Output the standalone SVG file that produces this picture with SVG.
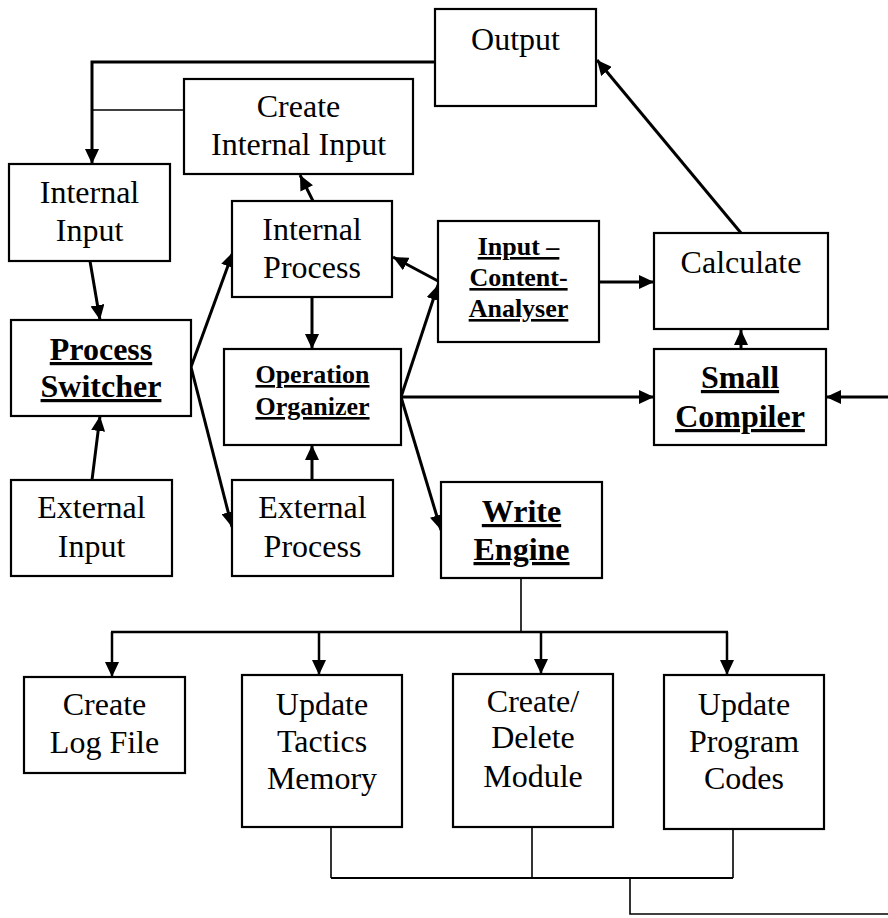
<svg xmlns="http://www.w3.org/2000/svg" width="888" height="918" viewBox="0 0 888 918">
<style>
.box{fill:#fff;stroke:#000;stroke-width:2.2}
.t{font-family:"Liberation Serif","Times New Roman",serif;font-size:32px;text-anchor:middle;fill:#000}
.b{font-weight:bold;text-decoration:underline}
.s{font-size:26px}
.c{fill:none;stroke:#000;stroke-width:3}
.thin{fill:none;stroke:#000;stroke-width:1.6}
.a{marker-end:url(#arr)}
</style>
<defs>
<marker id="arr" markerUnits="userSpaceOnUse" markerWidth="16" markerHeight="14" refX="15" refY="7" orient="auto">
<path d="M0,0 L15,7 L0,14 z" fill="#000"/>
</marker>
</defs>
<rect width="888" height="918" fill="#fff"/>
<g id="connectors">
<polyline class="c a" points="435,62 92,62 92,164"/>
<line class="thin" x1="184" y1="110" x2="92" y2="110"/>
<line class="c a" x1="90" y1="261" x2="100" y2="320"/>
<line class="c a" x1="92" y1="480" x2="100" y2="416"/>
<line class="c a" x1="191" y1="367" x2="233" y2="252"/>
<line class="c a" x1="191" y1="367" x2="232" y2="527"/>
<line class="c a" x1="313" y1="201" x2="300" y2="175"/>
<line class="c a" x1="312" y1="297" x2="312" y2="349"/>
<line class="c a" x1="312" y1="480" x2="312" y2="445"/>
<line class="c a" x1="438" y1="281" x2="393" y2="257"/>
<line class="c a" x1="401" y1="397" x2="438" y2="285"/>
<line class="c a" x1="401" y1="397" x2="654" y2="397"/>
<line class="c a" x1="401" y1="397" x2="441" y2="530"/>
<line class="c a" x1="599" y1="282" x2="654" y2="282"/>
<line class="c a" x1="741" y1="233" x2="597" y2="60"/>
<line class="c a" x1="741" y1="349" x2="741" y2="330"/>
<line class="c a" x1="888" y1="397" x2="826" y2="397"/>
<line class="thin" x1="521" y1="578" x2="521" y2="632"/>
<line class="c" x1="111" y1="632" x2="728" y2="632" style="stroke-width:2.5"/>
<line class="c a" x1="112" y1="632" x2="112" y2="677" style="stroke-width:2.5"/>
<line class="c a" x1="319" y1="632" x2="319" y2="675" style="stroke-width:2.5"/>
<line class="c a" x1="541" y1="632" x2="541" y2="674" style="stroke-width:2.5"/>
<line class="c a" x1="727" y1="632" x2="727" y2="675" style="stroke-width:2.5"/>
<line class="thin" x1="331" y1="827" x2="331" y2="878"/>
<line class="thin" x1="532" y1="827" x2="532" y2="878"/>
<line class="thin" x1="733" y1="829" x2="733" y2="878"/>
<line class="thin" x1="331" y1="878" x2="733" y2="878" style="stroke-width:2"/>
<polyline class="thin" points="630,878 630,914 888,914"/>
</g>
<g id="output"><rect class="box" x="435" y="9" width="161" height="97"/><text class="t" x="515.5" y="50">Output</text></g>
<g id="create-internal-input"><rect class="box" x="184" y="79" width="229" height="95"/><text class="t" x="298.5" y="117">Create</text><text class="t" x="298.5" y="155">Internal Input</text></g>
<g id="internal-input"><rect class="box" x="9" y="164" width="161" height="97"/><text class="t" x="89.5" y="203">Internal</text><text class="t" x="89.5" y="241">Input</text></g>
<g id="internal-process"><rect class="box" x="232" y="201" width="160" height="96"/><text class="t" x="312" y="240">Internal</text><text class="t" x="312" y="278">Process</text></g>
<g id="input-content-analyser"><rect class="box" x="438" y="221" width="161" height="121"/><text class="t b s" x="518.5" y="255">Input –</text><text class="t b s" x="518.5" y="286">Content-</text><text class="t b s" x="518.5" y="317">Analyser</text></g>
<g id="calculate"><rect class="box" x="654" y="233" width="174" height="96"/><text class="t" x="741" y="273">Calculate</text></g>
<g id="process-switcher"><rect class="box" x="11" y="320" width="180" height="96"/><text class="t b" x="101" y="360">Process</text><text class="t b" x="101" y="397">Switcher</text></g>
<g id="operation-organizer"><rect class="box" x="224" y="349" width="177" height="96"/><text class="t b s" x="312.5" y="383">Operation</text><text class="t b s" x="312.5" y="415">Organizer</text></g>
<g id="small-compiler"><rect class="box" x="654" y="349" width="172" height="96"/><text class="t b" x="740" y="388">Small</text><text class="t b" x="740" y="427">Compiler</text></g>
<g id="external-input"><rect class="box" x="11" y="480" width="161" height="96"/><text class="t" x="91.5" y="518">External</text><text class="t" x="91.5" y="557">Input</text></g>
<g id="external-process"><rect class="box" x="232" y="480" width="161" height="96"/><text class="t" x="312.5" y="518">External</text><text class="t" x="312.5" y="557">Process</text></g>
<g id="write-engine"><rect class="box" x="441" y="482" width="161" height="96"/><text class="t b" x="521.5" y="522">Write</text><text class="t b" x="521.5" y="560">Engine</text></g>
<g id="create-log-file"><rect class="box" x="24" y="677" width="161" height="96"/><text class="t" x="104.5" y="715">Create</text><text class="t" x="104.5" y="753">Log File</text></g>
<g id="update-tactics-memory"><rect class="box" x="242" y="675" width="160" height="152"/><text class="t" x="322" y="715">Update</text><text class="t" x="322" y="752">Tactics</text><text class="t" x="322" y="789">Memory</text></g>
<g id="create-delete-module"><rect class="box" x="453" y="674" width="160" height="153"/><text class="t" x="533" y="712">Create/</text><text class="t" x="533" y="748">Delete</text><text class="t" x="533" y="787">Module</text></g>
<g id="update-program-codes"><rect class="box" x="664" y="675" width="160" height="154"/><text class="t" x="744" y="715">Update</text><text class="t" x="744" y="752">Program</text><text class="t" x="744" y="789">Codes</text></g>
</svg>
